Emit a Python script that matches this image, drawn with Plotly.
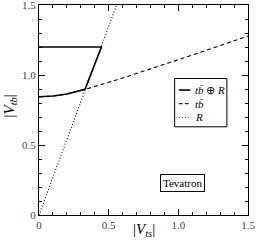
import plotly.graph_objects as go

# Data
solid_x = [0, 0.448, 0.33, 0.3, 0.2, 0.1, 0]
solid_y = [1.2, 1.2, 0.898, 0.89, 0.865, 0.85, 0.845]

dash_x = [0, 0.1, 0.2, 0.3, 0.4, 0.5, 0.6, 0.8, 1.0, 1.2, 1.4, 1.5]
dash_y = [0.845, 0.85, 0.865, 0.89, 0.918, 0.948, 0.979, 1.044, 1.11, 1.177, 1.245, 1.279]

dot_x = [0, 0.557]
dot_y = [0, 1.5]

tick_vals = [0, 0.5, 1.0, 1.5]
tick_text = ["0", "0.5", "1.0", "1.5"]

legend_labels = ["<i>t</i><i>b̄</i> ⊕ <i>R</i>", "<i>t</i><i>b̄</i>", "<i>R</i>"]
legend_dashes = ["solid", "4px,2px", "1px,2px"]
legend_widths = [1.6, 1.0, 1.0]

FONT = "Liberation Serif, Times New Roman, serif"

fig = go.Figure()
fig.add_trace(go.Scatter(x=dash_x, y=dash_y, mode="lines", line=dict(color="black", width=1.1, dash="4px,3px", shape="spline"), showlegend=False))
fig.add_trace(go.Scatter(x=dot_x, y=dot_y, mode="lines", line=dict(color="black", width=1.1, dash="1px,2px"), showlegend=False))
fig.add_trace(go.Scatter(x=solid_x, y=solid_y, mode="lines", line=dict(color="black", width=1.6), showlegend=False))

axis_common = dict(
    tickvals=tick_vals, ticktext=tick_text, automargin=False,
    ticks="inside", ticklen=6, tickwidth=1, tickcolor="black",
    showline=True, linecolor="black", linewidth=1.2, mirror="ticks",
    showgrid=False, zeroline=False,
    tickfont=dict(family=FONT, size=11, color="#444"),
    minor=dict(dtick=0.1, ticks="inside", ticklen=3, tickcolor="black", showgrid=False),
)
fig.update_xaxes(range=[0, 1.5], **axis_common)
fig.update_yaxes(range=[0, 1.5005], ticklabeloverflow="allow", **axis_common)

# legend box (manual, to match compact style)
lx0, lx1, ly0, ly1 = 0.649, 0.899, 0.42, 0.65
fig.add_shape(type="rect", xref="paper", yref="paper", x0=lx0, x1=lx1, y0=ly0, y1=ly1,
              line=dict(color="black", width=1), fillcolor="white")
rows = [0.595, 0.53, 0.465]
for yy, lab, dsh, w in zip(rows, legend_labels, legend_dashes, legend_widths):
    fig.add_shape(type="line", xref="paper", yref="paper", x0=lx0 + 0.02, x1=lx0 + 0.075, y0=yy, y1=yy,
                  line=dict(color="black", width=w, dash=dsh))
    fig.add_annotation(xref="paper", yref="paper", x=lx0 + 0.09, y=yy, text=lab, showarrow=False,
                       xanchor="left", yanchor="middle", font=dict(family=FONT, size=11, color="black"))

fig.add_annotation(xref="paper", yref="paper", x=0.795, y=0.11, text="Tevatron", showarrow=False,
                   font=dict(family=FONT, size=11, color="black"), bordercolor="black", borderwidth=1,
                   borderpad=2, bgcolor="white")

fig.add_annotation(xref="paper", yref="paper", x=0.5, y=-0.072, yanchor="middle",
                   text="|<i>V</i><sub><i>ts</i></sub>|", showarrow=False,
                   font=dict(family=FONT, size=15, color="black"))
fig.add_annotation(xref="paper", yref="paper", x=-0.14, y=0.52, xanchor="center",
                   text="|<i>V</i><sub><i>tb</i></sub>|", showarrow=False, textangle=-90,
                   font=dict(family=FONT, size=15, color="black"))

fig.update_layout(
    width=257, height=245,
    margin=dict(l=39, r=9, t=5, b=30, autoexpand=False),
    plot_bgcolor="white", paper_bgcolor="white",
    font=dict(family=FONT),
)
fig.write_html("out.html", config={"displayModeBar": False},
               post_script="document.body.style.margin='0';document.body.style.overflow='hidden';")
